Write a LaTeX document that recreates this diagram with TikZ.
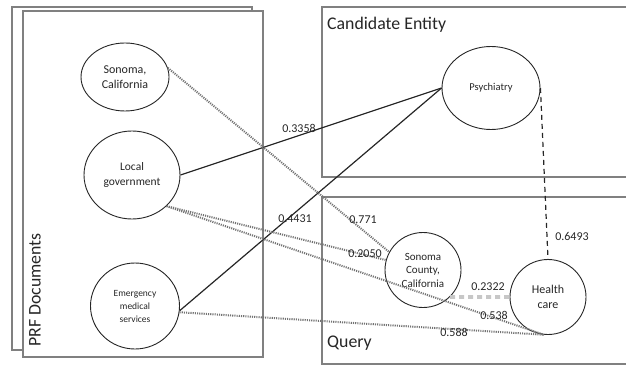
\documentclass[tikz,border=0pt]{standalone}
\usepackage{fontspec}
\setmainfont{Carlito}
\usetikzlibrary{shapes.geometric}
\begin{document}
\begin{tikzpicture}[x=1pt,y=1pt,
  panel/.style={draw=black!50,line width=1.1pt},
  entity/.style={ellipse,draw=black!85,line width=0.9pt,inner sep=0pt,align=center,text=black!85},
  strong/.style={draw=black!85,line width=1.2pt},
  weak/.style={draw=black!55,line width=2pt,dash pattern=on 1.1pt off 1.1pt},
  faint/.style={draw=black!22,line width=3.6pt,dash pattern=on 5pt off 4pt},
  link/.style={draw=black!85,line width=1.2pt,dash pattern=on 5pt off 4pt},
  score/.style={font=\fontsize{12}{14}\selectfont,text=black!85,inner sep=0pt},
  title/.style={font=\fontsize{17.8}{20}\selectfont,text=black!85,inner sep=0pt}]
\useasboundingbox (0,0) rectangle (626,-366);

% stacked document sheets
\draw[panel] (12,-7) rectangle (252,-350);
\draw[panel,fill=white] (23,-11) rectangle (263,-357);
% candidate and query panels
\draw[panel] (322,-7) rectangle (640,-177);
\draw[panel] (322,-197) rectangle (640,-364);

\node[title,anchor=west] (candlbl) at (327,-25) {Candidate Entity};
\node[title,anchor=west] (querylbl) at (327,-343) {Query};
\node[title,rotate=90] (prflbl) at (35,-290) {PRF Documents};

% entities
\node[entity,minimum width=88pt,minimum height=68pt,font=\fontsize{12}{15}\selectfont] (sc) at (125,-77) {Sonoma,\\California};
\node[entity,minimum width=96pt,minimum height=88pt,font=\fontsize{11.5}{15}\selectfont] (lg) at (132,-175) {Local\\government};
\node[entity,minimum width=89pt,minimum height=86pt,font=\fontsize{9.5}{13}\selectfont] (ems) at (135,-306) {Emergency\\medical\\services};
\node[entity,minimum width=98pt,minimum height=83pt,font=\fontsize{10.5}{13}\selectfont] (psy) at (491,-88) {Psychiatry};
\node[entity,minimum width=76pt,minimum height=75pt,font=\fontsize{11}{13.5}\selectfont] (scc) at (423,-270) {Sonoma\\County,\\California};
\node[entity,minimum width=76pt,minimum height=75pt,font=\fontsize{12}{14.5}\selectfont] (hc) at (548,-297) {Health\\care};

% relations
\draw[strong] (lg.east) -- (psy.west);
\draw[strong] (ems.-6) -- (psy.west);
\draw[weak] (sc.12) -- (scc.152);
\draw[weak] (lg.-42) -- (scc.165);
\draw[weak] (lg.-42) -- (hc.-96);
\draw[weak] (ems.-8) -- (hc.-96);
\draw[faint] (scc.-45) -- (hc.west);
\draw[link] (psy.east) -- (hc.north);

% scores
\node[score] (s1) at (299,-128) {0.3358};
\node[score] (s2) at (295,-219) {0.4431};
\node[score] (s3) at (363,-220) {0.771};
\node[score] (s4) at (365,-254) {0.2050};
\node[score] (s5) at (488,-287) {0.2322};
\node[score] (s6) at (494,-315) {0.538};
\node[score] (s7) at (454,-332) {0.588};
\node[score] (s8) at (572,-236) {0.6493};
\end{tikzpicture}
\end{document}
